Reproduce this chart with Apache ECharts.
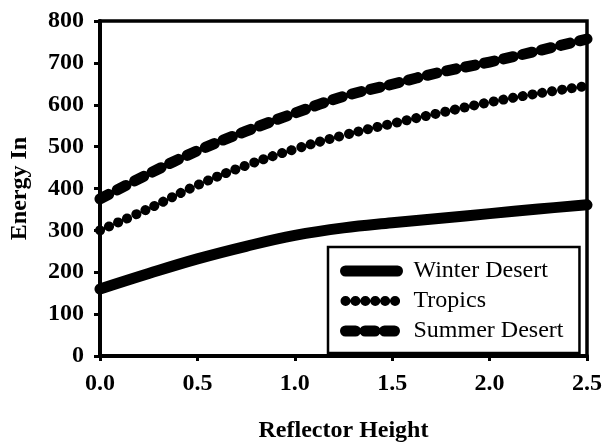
<!DOCTYPE html>
<html>
<head>
<meta charset="utf-8">
<script src="https://cdn.jsdelivr.net/npm/echarts@6/dist/echarts.min.js"></script>
<style>
html,body{margin:0;padding:0;background:#fff;}
#c{width:605px;height:448px;}
</style>
</head>
<body>
<div id="c"></div>
<script>
var reflectorHeight = [0, 0.25, 0.5, 0.75, 1.0, 1.25, 1.5, 1.75, 2.0, 2.25, 2.5];
var winterDesert = [160, 197, 232, 262, 288, 306, 318, 329, 340, 351, 361];
var tropics      = [300, 352, 408, 455, 494, 527, 555, 581, 606, 627, 645];
var summerDesert = [375, 435, 490, 537, 580, 620, 649, 678, 702, 729, 757];
var xTickLabels = ['0.0', '0.5', '1.0', '1.5', '2.0', '2.5'];
var yTickLabels = ['0', '100', '200', '300', '400', '500', '600', '700', '800'];
var seriesNames = ['Winter Desert', 'Tropics', 'Summer Desert'];

function pairs(ys){ return reflectorHeight.map(function(x,i){ return [x, ys[i]]; }); }

var FONT = 'Liberation Serif';
var styles = [
  {color: '#000', width: 11, type: 'solid', cap: 'round', join: 'round'},
  {color: '#000', width: 10, type: [0.1, 9.8], cap: 'round', join: 'round'},
  {color: '#000', width: 11, type: [10, 9.5], cap: 'round', join: 'round'}
];
var chart = echarts.init(document.getElementById('c'), null, {renderer:'canvas'});
chart.setOption({
  animation: false,
  backgroundColor: '#fff',
  grid: {left: 97, right: 17, top: 21, bottom: 85, show: true, borderColor: '#000', borderWidth: 3.5, backgroundColor: 'transparent'},
  xAxis: {
    type: 'value', min: 0, max: 2.5, interval: 0.5,
    name: 'Reflector Height', nameLocation: 'middle', nameGap: 63,
    nameTextStyle: {fontFamily: FONT, fontWeight: 'bold', fontSize: 24, color: '#000'},
    axisLine: {show: true, lineStyle: {color: '#000', width: 4}},
    axisTick: {show: true, inside: false, length: 5, lineStyle: {color: '#000', width: 3}},
    splitLine: {show: false},
    axisLabel: {margin: 16, fontFamily: FONT, fontWeight: 'bold', fontSize: 24, color: '#000',
      formatter: function(v){ return xTickLabels[Math.round(v/0.5)]; }}
  },
  yAxis: {
    type: 'value', min: 0, max: 800, interval: 100,
    name: 'Energy In', nameLocation: 'middle', nameGap: 68, nameRotate: 90,
    nameTextStyle: {fontFamily: FONT, fontWeight: 'bold', fontSize: 24, color: '#000'},
    axisLine: {show: true, lineStyle: {color: '#000', width: 4}},
    axisTick: {show: true, inside: false, length: 6, lineStyle: {color: '#000', width: 3}},
    splitLine: {show: false},
    axisLabel: {margin: 16, fontFamily: FONT, fontWeight: 'bold', fontSize: 24, color: '#000',
      formatter: function(v){ return yTickLabels[Math.round(v/100)]; }}
  },
  legend: {
    orient: 'vertical', left: 328, top: 247,
    backgroundColor: '#fff', borderColor: '#000', borderWidth: 2.5, borderRadius: 0,
    padding: [12, 16, 10, 12],
    itemWidth: 52, itemHeight: 12, itemGap: 6,
    textStyle: {fontFamily: FONT, fontSize: 24, color: '#000', padding: [0,0,0,11]},
    itemStyle: {color: 'rgba(0,0,0,0)', borderColor: 'rgba(0,0,0,0)', borderWidth: 0},
    data: seriesNames.map(function(n, i){
      return {name: n, lineStyle: styles[i]};
    })
  },
  series: [0,1,2].map(function(i){
    var ys = [winterDesert, tropics, summerDesert][i];
    return {name: seriesNames[i], type: 'line', data: pairs(ys), smooth: 0.4, showSymbol: false, symbol: 'none', clip: false,
      lineStyle: styles[i], itemStyle: {color: '#000'}};
  })
});
</script>
</body>
</html>
